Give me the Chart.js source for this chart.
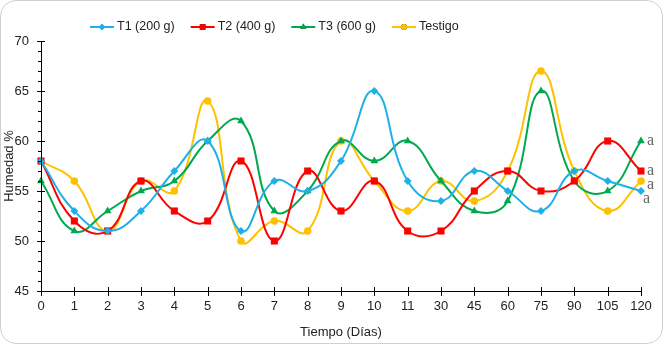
<!DOCTYPE html>
<html>
<head>
<meta charset="utf-8">
<script src="https://cdn.jsdelivr.net/npm/chart.js@4"></script>
<style>
  html, body { margin: 0; padding: 0; background: #fff; }
  #wrap { position: relative; width: 661px; height: 342px; border: 1px solid #d0d0d0; border-radius: 16px; overflow: hidden; }
  canvas { position: absolute; left: -1px; top: -1px; }
</style>
</head>
<body>
<div id="wrap"><canvas id="chart" width="663" height="344"></canvas></div>
<script>
// data
const days = ['0', '1', '2', '3', '4', '5', '6', '7', '8', '9', '10', '11', '30', '45', '60', '75', '90', '105', '120'];
const t1 = [58, 53, 51, 53, 57, 60, 51, 56, 55, 58, 65, 56, 54, 57, 55, 53, 57, 56, 55];
const t2 = [58, 52, 51, 56, 53, 52, 58, 50, 57, 53, 56, 51, 51, 55, 57, 55, 56, 60, 57];
const t3 = [56, 51, 53, 55, 56, 60, 62, 53, 55, 60, 58, 60, 56, 53, 54, 65, 56, 55, 60];
const testigo = [58, 56, 51, 56, 55, 64, 50, 52, 51, 60, 56, 53, 56, 54, 57, 67, 57, 53, 56];
const seriesNames = ['T1 (200 g)', 'T2 (400 g)', 'T3 (600 g)', 'Testigo'];
const endLetters = ['a', 'a', 'a', 'a'];
const yTicks = [45, 50, 55, 60, 65, 70];

const colors = ['#1fb0e8', '#ff0000', '#00a84f', '#ffc000'];
const shapes = ['rectRot', 'rect', 'triangle', 'circle'];
const radii = [4, 5, 4.5, 3.8];
const letterOffsets = [[2, 8], [6, 0], [6, 0], [6, 4]];

function makeSet(i, values) {
    return {
        label: seriesNames[i],
        data: values,
        borderColor: colors[i],
        backgroundColor: colors[i],
        borderWidth: 2,
        pointStyle: shapes[i],
        pointRadius: radii[i],
        pointBorderWidth: 0,
        tension: 0.45,
        clip: false
    };
}

const FONT = '"Liberation Sans", Arial, sans-serif';

/*---------------------------------- axis ticks ----------------------------------*/
const axisTicks = {
    id: 'axisTicks',
    afterDraw(chart) {
        const ctx = chart.ctx;
        const x = chart.scales.x, y = chart.scales.y;
        const area = chart.chartArea;
        ctx.save();
        ctx.strokeStyle = '#000';
        ctx.lineWidth = 1;
        ctx.beginPath();
        // axis lines
        ctx.moveTo(Math.round(area.left) + 0.5, area.top);
        ctx.lineTo(Math.round(area.left) + 0.5, area.bottom);
        ctx.moveTo(area.left, Math.round(area.bottom) + 0.5);
        ctx.lineTo(area.right, Math.round(area.bottom) + 0.5);
        // y ticks, major ones cross the axis
        for (let v = y.min; v <= y.max; v++) {
            const py = Math.round(y.getPixelForValue(v)) + 0.5;
            if (v % 5 === 0) {
                ctx.moveTo(area.left - 4, py);
                ctx.lineTo(area.left + 4, py);
            } else {
                ctx.moveTo(area.left - 3, py);
                ctx.lineTo(area.left, py);
            }
        }
        // x ticks
        for (let i = 0; i < days.length; i++) {
            const px = Math.round(x.getPixelForValue(i)) + 0.5;
            ctx.moveTo(px, area.bottom - 4);
            ctx.lineTo(px, area.bottom + 5);
        }
        ctx.stroke();
        ctx.restore();
    }
};

/*---------------------------------- legend ----------------------------------*/
const lineLegend = {
    id: 'lineLegend',
    afterDraw(chart) {
        const ctx = chart.ctx;
        ctx.save();
        ctx.font = '12.5px ' + FONT;
        ctx.textBaseline = 'middle';
        let px = 90;
        const py = 27;
        chart.data.datasets.forEach((ds, i) => {
            ctx.strokeStyle = ds.borderColor;
            ctx.lineWidth = 2;
            ctx.beginPath();
            ctx.moveTo(px, py);
            ctx.lineTo(px + 24, py);
            ctx.stroke();
            Chart.helpers.drawPoint(ctx, {pointStyle: ds.pointStyle, radius: ds.pointRadius * 0.8, borderWidth: 0, rotation: 0}, px + 12, py);
            ctx.fillStyle = ds.borderColor;
            ctx.fill();
            ctx.fillStyle = '#222';
            ctx.fillText(ds.label, px + 27, py);
            px += 27 + ctx.measureText(ds.label).width + 16;
        });
        ctx.restore();
    }
};

/*---------------------------------- end letters ----------------------------------*/
const endLabels = {
    id: 'endLabels',
    afterDatasetsDraw(chart) {
        const ctx = chart.ctx;
        ctx.save();
        ctx.font = '16px "Liberation Serif", "DejaVu Serif", serif';
        ctx.fillStyle = '#666';
        ctx.textBaseline = 'middle';
        chart.data.datasets.forEach((ds, i) => {
            const meta = chart.getDatasetMeta(i);
            const last = meta.data[meta.data.length - 1];
            ctx.fillText(endLetters[i], last.x + letterOffsets[i][0], last.y + letterOffsets[i][1]);
        });
        ctx.restore();
    }
};

new Chart(document.getElementById('chart'), {
    type: 'line',
    data: {
        labels: days,
        datasets: [makeSet(0, t1), makeSet(1, t2), makeSet(2, t3), makeSet(3, testigo)]
    },
    options: {
        responsive: false,
        animation: false,
        layout: { padding: { top: 41, right: 22, left: 0, bottom: 0 } },
        plugins: {
            legend: { display: false },
            tooltip: { enabled: false }
        },
        scales: {
            x: {
                offset: false,
                grid: { display: false },
                border: { display: false },
                ticks: { color: '#222', font: { family: FONT, size: 13 }, padding: 0, maxRotation: 0, autoSkip: false },
                title: { display: true, text: 'Tiempo (Días)', color: '#222', font: { family: FONT, size: 13 }, padding: { top: 2 } },
                afterFit(scale) { scale.height = 53; }
            },
            y: {
                min: 45,
                max: 70,
                afterBuildTicks(scale) { scale.ticks = yTicks.map(v => ({ value: v })); },
                grid: { display: false },
                border: { display: false },
                ticks: { color: '#222', font: { family: FONT, size: 13 }, padding: 4 },
                title: { display: true, text: 'Humedad %', color: '#222', font: { family: FONT, size: 13 }, padding: { top: 2, bottom: 0 } },
                afterFit(scale) { scale.width = 41; }
            }
        }
    },
    plugins: [axisTicks, lineLegend, endLabels]
});
</script>
</body>
</html>
